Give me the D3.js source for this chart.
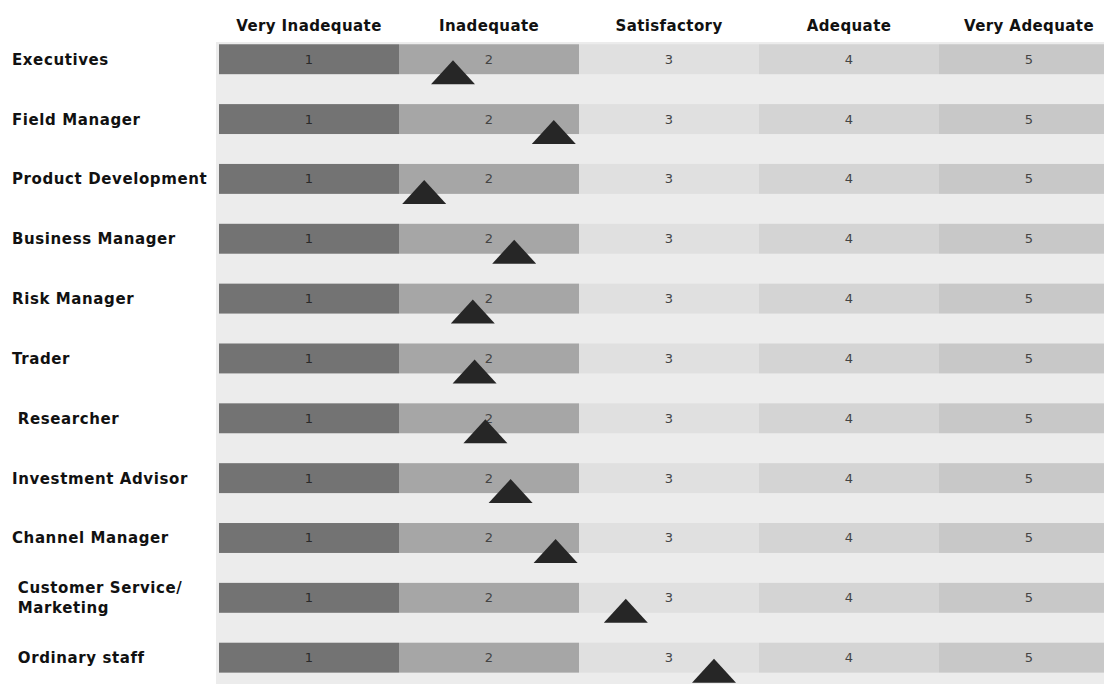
<!DOCTYPE html>
<html>
<head>
<meta charset="utf-8">
<script src="https://cdn.jsdelivr.net/npm/d3@7"></script>
<style>
  body { margin: 0; background: #fff; }
  text { font-family: "DejaVu Sans", sans-serif; }
</style>
</head>
<body>
<div id="chart"></div>
<script>
// rating scale
var levels = [1, 2, 3, 4, 5];
var levelNames = ["Very Inadequate", "Inadequate", "Satisfactory", "Adequate", "Very Adequate"];
var levelColors = ["#737373", "#a6a6a6", "#e0e0e0", "#d4d4d4", "#c8c8c8"];

// groups and where their marker sits on the scale
var groups = ["Executives", "Field Manager", "Product Development", "Business Manager",
              "Risk Manager", "Trader", " Researcher", "Investment Advisor",
              "Channel Manager", " Customer Service/\n Marketing", " Ordinary staff"];
var scores = [1.80, 2.36, 1.64, 2.14, 1.91, 1.92, 1.98, 2.12, 2.37, 2.76, 3.25];

var width = 1104, height = 684;

var svg = d3.select("#chart").append("svg")
    .attr("width", width)
    .attr("height", height);

// x: one segment per rating, value sits at segment centre
var x = d3.scaleLinear().domain([0.5, 5.5]).range([219, 1119]);
// step ~59.8, bars ~30 high, first bar top at 44
var y = d3.scaleBand().domain(groups).range([29.3, 687.6])
    .paddingInner(0.5).paddingOuter(0.25);

// panel behind the bars
svg.append("rect")
    .attr("x", 216).attr("y", 42)
    .attr("width", width - 216).attr("height", height - 42)
    .attr("fill", "#ececec");

// header
svg.selectAll(".head").data(levels).enter().append("text")
    .attr("class", "head")
    .attr("x", function (d) { return x(d); })
    .attr("y", 31)
    .attr("text-anchor", "middle")
    .attr("font-size", 15)
    .attr("letter-spacing", 0.4)
    .attr("font-weight", "bold")
    .attr("fill", "#111")
    .text(function (d, i) { return levelNames[i]; });

var rows = svg.selectAll(".row").data(groups).enter().append("g")
    .attr("class", "row")
    .attr("transform", function (d) { return "translate(0," + y(d) + ")"; });

rows.selectAll("rect").data(levels).enter().append("rect")
    .attr("x", function (d) { return x(d - 0.5); })
    .attr("y", 0)
    .attr("width", x(1.5) - x(0.5))
    .attr("height", y.bandwidth())
    .attr("fill", function (d, i) { return levelColors[i]; });

rows.selectAll(".num").data(levels).enter().append("text")
    .attr("class", "num")
    .attr("x", function (d) { return x(d); })
    .attr("y", y.bandwidth() / 2 + 4.5)
    .attr("text-anchor", "middle")
    .attr("font-family", "'Liberation Sans', Arial, sans-serif")
    .attr("font-size", 13)
    .attr("fill", function (d) { return d === 1 ? "#2a2a2a" : "#444"; })
    .text(function (d) { return d; });

// row labels
rows.each(function (d) {
    var lines = d.split("\n");
    var t = d3.select(this).append("text")
        .attr("font-size", 15)
        .attr("letter-spacing", 0.6)
        .attr("font-weight", "bold")
        .attr("fill", "#111")
        .attr("xml:space", "preserve");
    lines.forEach(function (line, k) {
        t.append("tspan")
            .attr("x", 12)
            .attr("y", y.bandwidth() / 2 + 5.5 + (k - (lines.length - 1) / 2) * 20)
            .text(line);
    });
});

// markers
var triW = 44, triH = 24;
rows.append("path")
    .attr("d", function (d, i) {
        var cx = x(scores[i]);
        var base = y.bandwidth() + 10;
        return "M" + (cx - triW / 2) + "," + base +
               "L" + cx + "," + (base - triH) +
               "L" + (cx + triW / 2) + "," + base + "Z";
    })
    .attr("fill", "#262626");
</script>
</body>
</html>
